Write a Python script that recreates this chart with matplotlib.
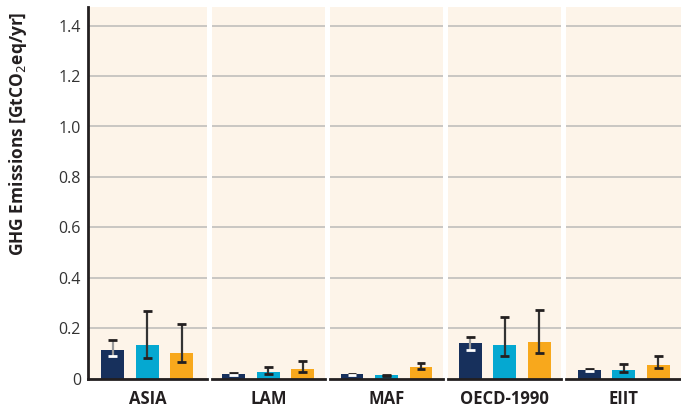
import matplotlib
matplotlib.use('Agg')
import matplotlib.pyplot as plt
import numpy as np

# Regions and scenario values (GtCO2eq/yr)
regions = ['ASIA', 'LAM', 'MAF', 'OECD-1990', 'EIIT']
navy_val = [0.115, 0.016, 0.016, 0.139, 0.032]
navy_lo = [0.089, 0.012, 0.014, 0.115, 0.028]
navy_hi = [0.152, 0.023, 0.018, 0.164, 0.037]
cyan_val = [0.131, 0.024, 0.012, 0.131, 0.032]
cyan_lo = [0.081, 0.017, 0.010, 0.089, 0.025]
cyan_hi = [0.268, 0.045, 0.014, 0.244, 0.057]
orange_val = [0.103, 0.036, 0.044, 0.143, 0.052]
orange_lo = [0.065, 0.025, 0.036, 0.101, 0.040]
orange_hi = [0.216, 0.069, 0.062, 0.270, 0.089]
yticks = [0, 0.2, 0.4, 0.6, 0.8, 1.0, 1.2, 1.4]
ytick_labels = ['0', '0.2', '0.4', '0.6', '0.8', '1.0', '1.2', '1.4']

colors = ['#17305c', '#05a8d1', '#f8a81c']
bg = '#fdf4e9'

plt.rcParams['font.family'] = ['Open Sans', 'DejaVu Sans']

W, H = 681, 415
fig = plt.figure(figsize=(W / 100, H / 100), dpi=100, facecolor='white')

# panel edges in pixels
edges = [(88, 206.7), (212, 324.7), (330, 443), (448.3, 561), (566.3, 681)]
y0, y1 = 378.5, 6.7
unit = 34.5  # px per bar slot
ytop = (y0 - y1) / 252.0

for i, (l, r) in enumerate(edges):
    ax = fig.add_axes([l / W, (H - y0) / H, (r - l) / W, (y0 - y1) / H])
    ax.set_facecolor(bg)
    half = (r - l) / 2 / unit
    ax.set_xlim(1 - half, 1 + half)
    ax.set_ylim(0, ytop)
    ax.set_yticks(yticks[1:])
    ax.yaxis.grid(True, color='#c9c6c2', linewidth=1.4)
    ax.set_axisbelow(True)
    ax.tick_params(length=0)
    ax.set_xticks([1])
    ax.set_xticklabels([regions[i]], fontsize=12, fontweight='bold', color='#231f20')
    ax.tick_params(axis='x', pad=8)
    for s in ['top', 'right', 'left']:
        ax.spines[s].set_visible(False)
    ax.spines['bottom'].set_linewidth(2)
    ax.spines['bottom'].set_color('#231f20')
    if i == 0:
        ax.spines['left'].set_visible(True)
        ax.spines['left'].set_linewidth(2)
        ax.spines['left'].set_color('#231f20')
        ax.set_yticks(yticks)
        ax.set_yticklabels(ytick_labels, fontsize=11.5, color='#333333')
        ax.tick_params(axis='y', pad=5)
    else:
        ax.set_yticklabels([])

    vals = [navy_val[i], cyan_val[i], orange_val[i]]
    los = [navy_lo[i], cyan_lo[i], orange_lo[i]]
    his = [navy_hi[i], cyan_hi[i], orange_hi[i]]
    ax.bar([0, 1, 2], vals, width=0.66, color=colors, zorder=2)
    for k in range(3):
        stem = '#9a9a9a' if k == 0 else '#333333'
        low_cap = 'white' if k == 0 else '#231f20'
        ax.vlines(k, los[k], his[k], color=stem, linewidth=1.6, zorder=3)
        ax.hlines(his[k], k - 0.13, k + 0.13, color='#231f20', linewidth=2, zorder=4)
        ax.hlines(los[k], k - 0.13, k + 0.13, color=low_cap, linewidth=2, zorder=4)

fig.text(18 / W, (H - 134) / H, 'GHG Emissions [GtCO$_2$eq/yr]', rotation=90,
         ha='center', va='center', fontsize=12.5, fontweight='bold', color='#231f20')

fig.savefig('out.png', dpi=100, facecolor='white')
